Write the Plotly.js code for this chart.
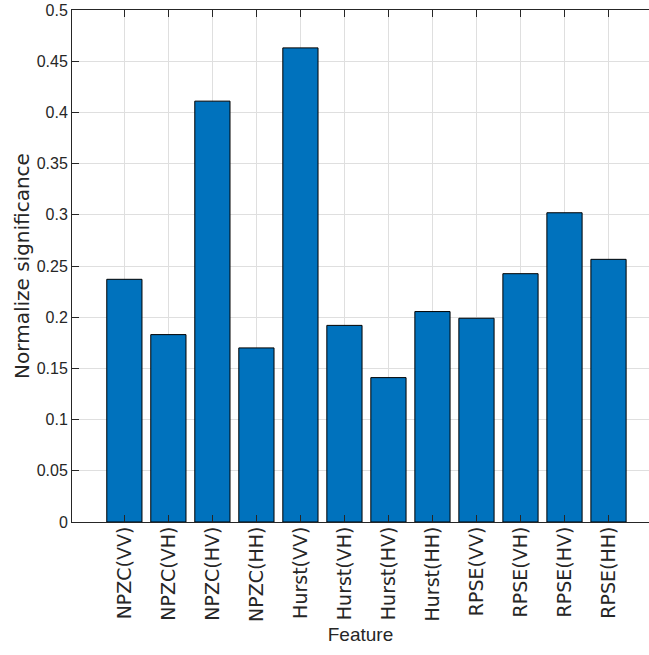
<!DOCTYPE html>
<html>
<head>
<meta charset="utf-8">
<script src="https://cdn.plot.ly/plotly-3.0.1.min.js"></script>
<style>html,body{margin:0;padding:0;background:#fff;}#chart{width:649px;height:655px;}</style>
</head>
<body>
<div id="chart"></div>
<script>
const categories = ["NPZC(VV)","NPZC(VH)","NPZC(HV)","NPZC(HH)","Hurst(VV)","Hurst(VH)","Hurst(HV)","Hurst(HH)","RPSE(VV)","RPSE(VH)","RPSE(HV)","RPSE(HH)"];
const positions = [1,2,3,4,5,6,7,8,9,10,11,12];
const significance = [0.237,0.183,0.411,0.170,0.463,0.192,0.141,0.2055,0.199,0.2425,0.302,0.2565];
const yTickVals = [0,0.05,0.1,0.15,0.2,0.25,0.3,0.35,0.4,0.45,0.5];
const yTickText = ["0","0.05","0.1","0.15","0.2","0.25","0.3","0.35","0.4","0.45","0.5"];

const trace = {
  type: 'bar',
  x: positions,
  y: significance,
  width: 0.8,
  marker: {color: '#0072BD', line: {color: '#000000', width: 1}},
  hoverinfo: 'x+y'
};

const axisColor = '#262626';
const layout = {
  width: 649, height: 655,
  margin: {l: 72, r: 0, t: 10, b: 133, pad: 0},
  paper_bgcolor: '#ffffff',
  plot_bgcolor: '#ffffff',
  showlegend: false,
  font: {family: 'Liberation Sans, Arial, sans-serif', color: axisColor},
  xaxis: {
    range: [-0.19, 12.92],
    tickvals: positions,
    ticktext: categories,
    tickangle: -90,
    ticks: 'inside', ticklen: 7, tickcolor: axisColor, tickwidth: 1,
    ticklabelstandoff: -4,
    showline: true, linecolor: axisColor, linewidth: 1, mirror: 'ticks',
    showgrid: true, gridcolor: '#dfdfdf', gridwidth: 1,
    zeroline: false,
    tickfont: {family: 'DejaVu Sans, sans-serif', size: 19, color: axisColor},
    title: {text: 'Feature', font: {family: 'Liberation Sans, Arial, sans-serif', size: 19, color: axisColor}, standoff: 6}
  },
  yaxis: {
    range: [0, 0.5],
    tickvals: yTickVals,
    ticktext: yTickText,
    ticks: 'inside', ticklen: 7, tickcolor: axisColor, tickwidth: 1,
    showline: true, linecolor: axisColor, linewidth: 1, mirror: false,
    showgrid: true, gridcolor: '#dfdfdf', gridwidth: 1,
    zeroline: false,
    tickfont: {family: 'Liberation Sans, Arial, sans-serif', size: 16, color: axisColor},
    title: {text: 'Normalize significance', font: {family: 'DejaVu Sans, sans-serif', size: 20, color: axisColor}, standoff: 1}
  },
  bargap: 0.2
};

Plotly.newPlot('chart', [trace], layout, {displayModeBar: false, staticPlot: true});
</script>
</body>
</html>
